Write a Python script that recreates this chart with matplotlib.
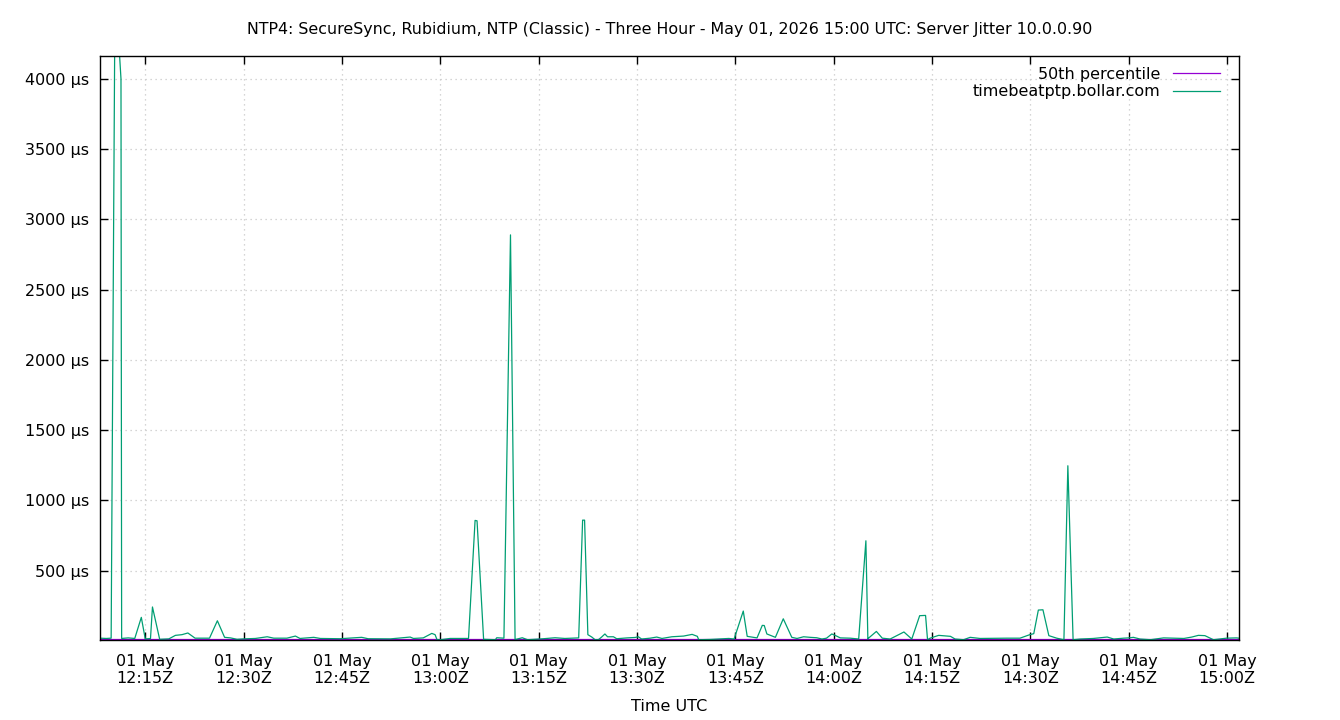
import numpy as np
import pandas as pd
import matplotlib
matplotlib.use("Agg")
import matplotlib.pyplot as plt
import matplotlib.dates as mdates
from matplotlib.ticker import FixedLocator, FuncFormatter

# minutes after 12:00 UTC, jitter in microseconds
jitter_minutes = [
    8.1, 9.05, 9.8, 10.4, 11.3, 11.4, 12.4, 13.4, 14.4, 15.0, 15.8, 16.1, 17.2,
    18.6, 19.6, 20.6, 21.5, 22.6, 24.8, 26.0, 27.1, 28.0, 29.0, 30.0, 31.8,
    33.6, 34.6, 36.6, 37.9, 38.6, 40.7, 41.7, 44.7, 48.0, 49.0, 52.4, 55.4,
    55.9, 57.4, 58.7, 59.2, 59.5, 60.0, 61.5, 64.1, 64.3, 65.3, 65.6, 66.6,
    68.4, 68.6, 69.7, 70.7, 71.4, 72.5, 73.3, 75.7, 77.5, 79.0, 81.1, 81.7,
    82.0, 82.5, 83.1, 83.6, 84.1, 84.6, 85.1, 85.5, 86.4, 86.9, 88.5, 89.7,
    90.2, 90.7, 92.0, 93.0, 93.8, 95.3, 97.1, 98.4, 99.2, 99.4, 101.2, 104.0,
    104.8, 106.2, 106.8, 108.3, 109.1, 109.4, 109.8, 111.1, 112.3, 113.6,
    114.4, 115.4, 116.4, 117.4, 118.2, 118.9, 119.7, 120.2, 121.0, 122.5,
    123.8, 124.9, 125.2, 125.3, 126.5, 127.4, 128.6, 130.7, 131.9, 133.1,
    134.0, 134.3, 134.7, 136.0, 137.8, 138.5, 139.8, 140.8, 142.3, 146.4,
    148.4, 149.9, 150.5, 151.2, 151.9, 152.8, 154.0, 155.1, 155.7, 156.5,
    157.6, 159.6, 161.7, 162.7, 164.2, 165.0, 165.7, 166.7, 168.3, 170.3,
    171.8, 173.4, 174.6, 175.6, 176.6, 177.9, 179.9, 181.4, 181.8,
]
jitter_us = [
    20, 18, 20, 4700, 4000, 18, 22, 18, 168, 15, 17, 242, 12,
    15, 40, 45, 57, 20, 20, 144, 26, 22, 12, 15, 18,
    30, 20, 20, 35, 18, 26, 18, 16, 26, 16, 15, 28,
    18, 22, 54, 45, 9, 9, 18, 18, 18, 858, 855, 12,
    9, 23, 20, 2890, 10, 23, 9, 16, 23, 18, 22, 860,
    860, 45, 28, 9, 9, 28, 50, 30, 30, 16, 22, 25,
    30, 14, 20, 28, 18, 30, 35, 47, 33, 9, 11, 18,
    14, 213, 33, 22, 111, 110, 50, 26, 158, 26,
    18, 30, 26, 23, 14, 20, 50, 40, 22, 20,
    14, 713, 14, 20, 68, 20, 14, 64, 14, 180,
    182, 9, 20, 40, 33, 14, 9, 26, 18, 20,
    20, 45, 52, 220, 222, 38, 20, 9, 1247, 9,
    14, 18, 28, 14, 20, 22, 26, 14, 9, 22,
    20, 18, 28, 40, 38, 9, 20, 22, 20,
]
median_minutes = [8.1, 181.8]
median_us = [11, 11]

y_ticks = [500, 1000, 1500, 2000, 2500, 3000, 3500, 4000]
title = "NTP4: SecureSync, Rubidium, NTP (Classic) - Three Hour - May 01, 2026 15:00 UTC: Server Jitter 10.0.0.90"

base = pd.Timestamp("2026-05-01 12:00")
t_jit = base + pd.to_timedelta(jitter_minutes, unit="min")
t_med = base + pd.to_timedelta(median_minutes, unit="min")

plt.rcParams["font.family"] = "DejaVu Sans"
plt.rcParams["font.size"] = 11.5

fig = plt.figure(figsize=(13.4, 7.2), dpi=100)
ax = fig.add_axes([100 / 1340, 1 - 640 / 720, 1139 / 1340, 584 / 720])

ax.plot(t_med, median_us, color="#9400D3", lw=0.9, label="50th percentile")
ax.plot(t_jit, jitter_us, color="#009E73", lw=0.9, label="timebeatptp.bollar.com")

ax.set_xlim(t_med[0], t_med[-1])
ax.set_ylim(7, 4163)

ax.yaxis.set_major_locator(FixedLocator(y_ticks))
ax.yaxis.set_major_formatter(FuncFormatter(lambda v, p: f"{int(v)} µs"))
ax.xaxis.set_major_locator(mdates.MinuteLocator(byminute=[0, 15, 30, 45]))
ax.xaxis.set_major_formatter(mdates.DateFormatter("%d %b\n%H:%MZ"))

ax.tick_params(direction="in", length=6, width=1, top=True, right=True, pad=8)
ax.tick_params(axis="x", pad=10)
ax.grid(True, color="#c8c8c8", linestyle=(0, (1, 3)), lw=0.9)
for s in ax.spines.values():
    s.set_linewidth(1)

ax.set_title(title, fontsize=11.45, pad=16)
ax.set_xlabel("Time UTC", labelpad=9)

ax.legend(loc="upper right", bbox_to_anchor=(0.989, 0.9925), frameon=False,
          markerfirst=False, handlelength=2.95, handletextpad=0.8,
          labelspacing=0.15, borderaxespad=0, fontsize=11.5)

fig.savefig("out.png", dpi=100)
